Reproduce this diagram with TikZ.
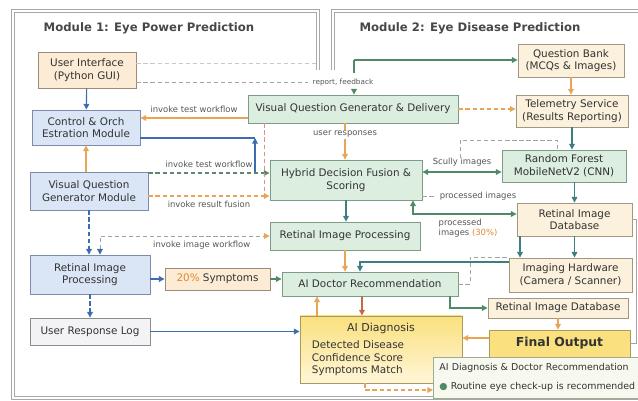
\documentclass[tikz,border=0pt]{standalone}
\usepackage{fontspec}
\setmainfont{DejaVu Sans}
\usetikzlibrary{arrows.meta}

\definecolor{txt}{HTML}{333333}
\definecolor{lbltx}{HTML}{555555}
\definecolor{ofill}{HTML}{FCEBD5}
\definecolor{odraw}{HTML}{9C8B78}
\definecolor{bfill}{HTML}{DAE5F5}
\definecolor{bdraw}{HTML}{7C8CAA}
\definecolor{gfill}{HTML}{DCEEDF}
\definecolor{gdraw}{HTML}{7C9C86}
\definecolor{cfill}{HTML}{FBF1DC}
\definecolor{cdraw}{HTML}{A39782}
\definecolor{lfill}{HTML}{F3F3F5}
\definecolor{ldraw}{HTML}{8C8C8C}
\definecolor{yfill}{HTML}{FAE07E}
\definecolor{ylight}{HTML}{FFF6D8}
\definecolor{ydraw}{HTML}{A99A5E}
\definecolor{pfill}{HTML}{F7F9EF}
\definecolor{pdraw}{HTML}{9CAB94}
\definecolor{blueln}{HTML}{3C6EAF}
\definecolor{orgln}{HTML}{E9A456}
\definecolor{grnln}{HTML}{4F8A68}
\definecolor{tealln}{HTML}{3D7E80}
\definecolor{grayln}{HTML}{A3A3A3}
\definecolor{redln}{HTML}{C46A4A}
\definecolor{orgtx}{HTML}{E08A2E}
\definecolor{panelgray}{HTML}{A8A8A8}

\begin{document}
\begin{tikzpicture}[x=0.025cm, y=-0.025cm,
    box/.style={draw, line width=0.6pt, align=center, inner sep=1pt, text=txt, font=\fontsize{7.4}{9}\selectfont},
    obox/.style={box, fill=ofill, draw=odraw},
    bbox/.style={box, fill=bfill, draw=bdraw},
    gbox/.style={box, fill=gfill, draw=gdraw},
    cbox/.style={box, fill=cfill, draw=cdraw},
    lbox/.style={box, fill=lfill, draw=ldraw},
    ttl/.style={font=\bfseries\fontsize{8.3}{10}\selectfont, text=txt!90},
    lbl/.style={font=\fontsize{6}{7}\selectfont, text=lbltx},
    panel/.style={draw=panelgray, double=white, double distance=1.2pt, line width=0.5pt},
    arr/.style={-{Triangle[length=4pt,width=4pt]}},
    bplain/.style={draw=blueln, line width=0.8pt},
    bline/.style={bplain, arr},
    bdash/.style={bline, dash pattern=on 3pt off 2pt},
    oline/.style={draw=orgln, line width=0.8pt, arr},
    odash/.style={oline, dash pattern=on 3pt off 2pt},
    gplain/.style={draw=grnln, line width=0.8pt},
    gline/.style={gplain, arr},
    gboth/.style={gplain, {Triangle[length=4pt,width=4pt]}-{Triangle[length=4pt,width=4pt]}},
    grdash/.style={gline, draw=grnln!70!gray, dash pattern=on 3pt off 2pt},
    tline/.style={draw=tealln, line width=0.8pt, arr},
    rline/.style={draw=redln, line width=0.8pt, arr},
    gdash/.style={draw=grayln, line width=0.6pt, dash pattern=on 3pt off 2pt},
    faint/.style={draw=grayln!60, line width=0.5pt, dash pattern=on 3pt off 2pt}]
    \useasboundingbox (0,0) rectangle (638,401);

    % module panels
    \draw[panel] (318,70) -- (318,11) -- (13,11) -- (13,398) -- (320,398);
    \draw[panel] (333,70) -- (333,11) -- (650,11);
    \draw[panel] (320,398) -- (650,398);
    \node[ttl] (t1) at (149,28) {Module 1: Eye Power Prediction};
    \node[ttl] (t2) at (470,28) {Module 2: Eye Disease Prediction};

    % module 1 boxes
    \node[obox, minimum width=2.45cm, minimum height=0.9cm] (ui) at (87,70) {User Interface\\(Python GUI)};
    \node[bbox, minimum width=2.7cm, minimum height=0.875cm] (ctrl) at (86,127.5) {Control \& Orch\\Estration Module};
    \node[bbox, minimum width=2.95cm, minimum height=0.95cm] (vqgm) at (89,191) {Visual Question\\Generator Module};
    \node[bbox, minimum width=3cm, minimum height=0.975cm] (ripl) at (90,274.5) {Retinal Image\\Processing};
    \node[lbox, minimum width=3cm, minimum height=0.675cm] (url) at (90,331.5) {User Response Log};
    \node[obox, minimum width=2.625cm, minimum height=0.55cm] (sym) at (217.5,279) {{\color{orgtx}20\%} Symptoms};

    % central boxes
    \node[gbox, minimum width=5.25cm, minimum height=0.7cm] (vqgd) at (353,109) {Visual Question Generator \& Delivery};
    \node[gbox, minimum width=3.8cm, minimum height=1cm] (hyb) at (346,180) {Hybrid Decision Fusion \&\\Scoring};
    \node[gbox, minimum width=3.75cm, minimum height=0.7cm] (ripm) at (345,236) {Retinal Image Processing};
    \node[gbox, minimum width=4.4cm, minimum height=0.6cm] (adr) at (370,284) {AI Doctor Recommendation};
    \node[box, draw=ydraw, top color=yfill, bottom color=ylight, minimum width=4.05cm, minimum height=1.675cm,
          text width=3.45cm, inner xsep=0.3cm, align=left] (aid) at (381,349.5)
          {\makebox[3.45cm]{\fontsize{7.8}{9}\selectfont AI Diagnosis}\\[3pt]Detected Disease\\Confidence Score\\Symptoms Match};

    % module 2 right column
    \node[cbox, minimum width=2.65cm, minimum height=0.825cm] (qb) at (571,60.5) {Question Bank\\(MCQs \& Images)};
    \node[cbox, minimum width=2.8cm, minimum height=0.8cm] (tel) at (572,111) {Telemetry Service\\(Results Reporting)};
    \node[gbox, minimum width=3.1cm, minimum height=0.8cm] (rf) at (564,166) {Random Forest\\MobileNetV2 (CNN)};
    \node[cbox, minimum width=2.875cm, minimum height=0.825cm] (rid) at (574.5,219.5) {Retinal Image\\Database};
    \node[cbox, minimum width=3.075cm, minimum height=0.85cm] (ih) at (570.5,275) {Imaging Hardware\\(Camera / Scanner)};
    \node[cbox, minimum width=3.5cm, minimum height=0.5cm] (rid2) at (558,308) {Retinal Image Database};
    \node[box, fill=yfill, draw=ydraw, minimum width=3.525cm, minimum height=0.675cm,
          font=\bfseries\fontsize{8.8}{10}\selectfont] (fo) at (559.5,343.5) {Final Output};
    \node[box, fill=pfill, draw=pdraw, anchor=west, minimum width=5.7cm, minimum height=1.025cm,
          text width=5.4cm, inner xsep=0.15cm, align=left, font=\fontsize{6.7}{8}\selectfont] (outp) at (433,377.5)
          {AI Diagnosis \& Doctor Recommendation\\[5pt]{\color{grnln}●} Routine eye check-up is recommended};

    % module 1 connectors
    \draw[bline] (ui) -- (ctrl);
    \draw[oline] (vqgm.north -| ctrl.south) -- (ctrl.south);
    \draw[bdash] (vqgm.south) -- (vqgm.south |- ripl.north);
    \draw[bline] (ripl.east |- sym.west) -- (sym.west);
    \draw[bdash] (ripl.south) -- (ripl.south |- url.north);
    \draw[bline] (url.east) -- (url.east -| aid.west);

    % feedback path
    \coordinate (m1r) at (318,63);
    \draw[faint] (ui.east |- m1r) -- (m1r);
    \node[lbl, font=\fontsize{5.2}{6}\selectfont] (fb) at (343,82) {report, feedback};
    \draw[gdash] (ui.east |- fb.west) -- (fb.west);
    \coordinate (fbk) at (354,60);
    \draw[gplain] (fbk) -- (fbk |- fb.north);
    \draw[gline] (fbk |- fb.south) -- (fbk |- vqgd.north);
    \draw[gline] (fbk) -- (fbk -| qb.west);

    % workflow calls
    \draw[oline] (vqgd.west |- 0,118) -- (ctrl.east |- 0,118) node[midway, above, lbl] {invoke test workflow};
    \coordinate (bj) at (255,138);
    \coordinate (bk) at (255,172);
    \draw[bplain] (ctrl.east |- bj) -- (bj);
    \draw[bline] (bk) -- (bj);
    \draw[grdash] (vqgm.east |- 0,173) -- (hyb.west |- 0,173) node[midway, above, lbl] {invoke test workflow};
    \draw[odash] (vqgm.east |- 0,196) -- (hyb.west |- 0,196) node[midway, below, lbl] {invoke result fusion};
    \coordinate (fj) at (264,196);
    \draw[draw=redln!70, line width=0.6pt, dash pattern=on 3pt off 2pt] (vqgd.south -| fj) -- (fj);
    \draw[gdash, {Triangle[length=4pt,width=4pt,color=blueln]}-{Triangle[length=4pt,width=4pt,color=orgln]}]
        (ripl.north -| 100,0) |- (ripm.west) node[pos=0.8, below, lbl] {invoke image workflow};

    % central connectors
    \draw[oline] (vqgd.south -| 345,0) -- (hyb.north -| 345,0) node[pos=0.3, lbl, fill=white, inner sep=1pt] {user responses};
    \draw[odash] (vqgd.east) -- (vqgd.east -| tel.west);
    \draw[tline] (hyb.south) -- (hyb.south |- ripm.north);
    \draw[oline] (ripm.south) -- (ripm.south |- adr.north);
    \draw[gline] (sym.east) -- (sym.east -| adr.west);
    \draw[rline] (adr.south -| 362,0) -- (aid.north -| 362,0);
    \draw[oline] (aid.north -| 317,0) -- (adr.south -| 317,0);

    % module 2 connectors
    \draw[oline] (qb.south) -- (qb.south |- tel.north);
    \draw[tline] (tel.south) -- (tel.south |- rf.north);
    \coordinate (gd) at (460,158);
    \draw[gdash] (gd) |- (557,140) -- (rf.north -| 557,0);
    \draw[gboth] (hyb.east |- 0,172) -- (rf.west |- 0,172) node[midway, above, lbl] {Scully images};
    \node[lbl] (pim) at (478,196) {processed images};
    \draw[gdash] (hyb.east |- pim) -- (pim.west);
    \draw[gboth] (hyb.south -| 413,0) |- (rid.west |- 0,214);
    \node[lbl, align=left] (pim30) at (468,228) {processed\\images {\color{orgtx}(30\%)}};
    \draw[tline] (rf.south -| rid.north) -- (rid.north);
    \draw[tline] (rid.south) -- (rid.south |- ih.north);
    \draw[tline] (rid.south -| 520,0) -- (ih.north -| 520,0);
    \draw[tline] (ih.west |- 0,262) -| (adr.north -| 360,0);
    \draw[gdash] (adr.east) -- (470,284) |- (ih.north west);
    \draw[gline] (adr.south -| 450,0) |- (rid2.west);
    \draw[oline] (rid2.south) -- (rid2.south |- fo.north);
    \draw[oline] (fo.west |- 0,338) -- (aid.east |- 0,338);
    \draw[odash] (aid.south -| 365,0) |- (outp.west |- 0,390);
    \draw[draw=grayln, line width=0.5pt] (rid.east) -- (rid.east -| 636,0) |- (fo.east);
\end{tikzpicture}
\end{document}
